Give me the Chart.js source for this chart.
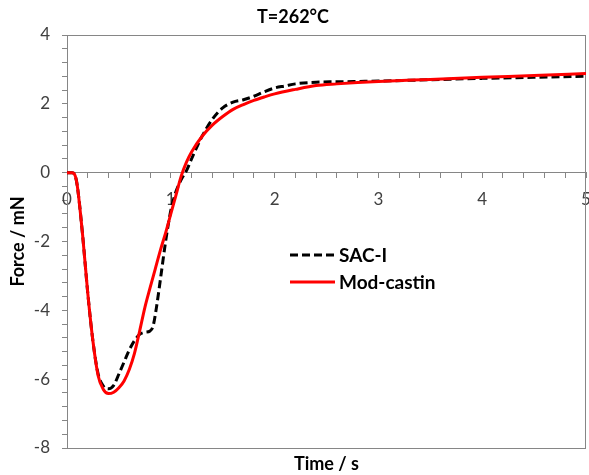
<!DOCTYPE html>
<html>
<head>
<meta charset="utf-8">
<script src="https://cdn.jsdelivr.net/npm/chart.js@4.4.1/dist/chart.umd.min.js"></script>
<style>
  html, body { margin: 0; padding: 0; background: #fff; }
  #wrap { width: 589px; height: 475px; }
</style>
</head>
<body>
<div id="wrap"><canvas id="forceChart"></canvas></div>
<script>
// values (time in s, force in mN)
const sacTime = [0, 0.05, 0.08, 0.1, 0.15, 0.2, 0.25, 0.3, 0.35, 0.4, 0.45, 0.5, 0.55, 0.6, 0.65, 0.7, 0.75, 0.8,
  0.83, 0.86, 0.9, 0.95, 1.0, 1.05, 1.1, 1.15, 1.2, 1.3, 1.4, 1.5, 1.6, 1.7, 1.8, 1.9, 2.0, 2.1, 2.2,
  2.4, 2.6, 2.8, 3.0, 3.5, 4.0, 4.5, 5.0];
const sacForce = [0, 0, -0.1, -0.4, -1.8, -3.5, -4.9, -5.85, -6.2, -6.28, -6.18, -5.85, -5.5, -5.15, -4.88, -4.7, -4.64, -4.6,
  -4.45, -3.95, -3.1, -2.0, -1.1, -0.55, -0.2, 0.05, 0.4, 1.05, 1.55, 1.88, 2.05, 2.12, 2.22, 2.35, 2.46, 2.52, 2.58,
  2.63, 2.64, 2.65, 2.66, 2.7, 2.74, 2.77, 2.8];
const modTime = [0, 0.05, 0.08, 0.1, 0.15, 0.2, 0.25, 0.3, 0.35, 0.4, 0.45, 0.5, 0.55, 0.6, 0.65, 0.7, 0.75, 0.8,
  0.85, 0.9, 0.95, 1.0, 1.05, 1.1, 1.15, 1.2, 1.3, 1.4, 1.5, 1.6, 1.7, 1.8, 1.9, 2.0, 2.2, 2.4, 2.6, 2.8,
  3.0, 3.5, 4.0, 4.5, 5.0];
const modForce = [0, 0, -0.1, -0.4, -1.8, -3.5, -4.9, -5.9, -6.3, -6.42, -6.38, -6.25, -6.05, -5.72, -5.25, -4.6, -3.92, -3.35,
  -2.8, -2.25, -1.75, -1.2, -0.65, -0.1, 0.3, 0.6, 1.05, 1.38, 1.63, 1.84, 1.98, 2.1, 2.2, 2.29, 2.42, 2.53, 2.58, 2.62,
  2.65, 2.71, 2.77, 2.82, 2.88];

const xMajor = [0, 1, 2, 3, 4, 5];
const yMajor = [-8, -6, -4, -2, 0, 2, 4];
const seriesNames = ["SAC-I", "Mod-castin"];

const axisGray = "#868686";
const fontFamily = "Lato, 'Open Sans', sans-serif";
const labelFont = { family: fontFamily, size: 17 };
const boldFont = { family: fontFamily, size: 18, weight: "bold" };

function toPoints(xs, ys) {
  return xs.map((x, i) => ({ x: x, y: ys[i] }));
}

function isMajor(v, list) {
  return list.some((m) => Math.abs(m - v) < 1e-6);
}

// frame around the plot area
const plotFrame = {
  id: "plotFrame",
  beforeDatasetsDraw(chart) {
    const { ctx, chartArea } = chart;
    ctx.save();
    ctx.strokeStyle = axisGray;
    ctx.lineWidth = 1;
    ctx.strokeRect(chartArea.left + 0.5, chartArea.top + 0.5,
      chartArea.right - chartArea.left - 1, chartArea.bottom - chartArea.top);
    ctx.restore();
  },
};

// legend drawn inside the plot
const insideLegend = {
  id: "insideLegend",
  afterDatasetsDraw(chart) {
    const { ctx } = chart;
    const order = [1, 0];
    ctx.save();
    order.forEach((idx, row) => {
      const ds = chart.data.datasets[idx];
      const y = 255 + row * 27;
      ctx.beginPath();
      ctx.strokeStyle = ds.borderColor;
      ctx.lineWidth = 3;
      ctx.setLineDash(ds.borderDash || []);
      ctx.moveTo(290, y);
      ctx.lineTo(335, y);
      ctx.stroke();
      ctx.setLineDash([]);
      ctx.fillStyle = "#000";
      ctx.font = "bold 19px " + fontFamily;
      ctx.textBaseline = "middle";
      ctx.fillText(ds.label, 339, y + 1);
    });
    ctx.restore();
  },
};

new Chart(document.getElementById("forceChart"), {
  type: "line",
  data: {
    datasets: [
      {
        label: seriesNames[1],
        data: toPoints(modTime, modForce),
        borderColor: "#ff0000",
        borderWidth: 3,
        pointRadius: 0,
        cubicInterpolationMode: "monotone",
        order: 0,
      },
      {
        label: seriesNames[0],
        data: toPoints(sacTime, sacForce),
        borderColor: "#000000",
        borderWidth: 3,
        borderDash: [8, 4],
        pointRadius: 0,
        cubicInterpolationMode: "monotone",
        order: 1,
      },
    ],
  },
  options: {
    responsive: true,
    maintainAspectRatio: false,
    animation: false,
    layout: { padding: { left: 0, right: 3, top: 0, bottom: 0 } },
    plugins: {
      legend: { display: false },
      tooltip: { enabled: false },
      title: {
        display: true,
        text: "T=262°C",
        color: "#000",
        font: { family: fontFamily, size: 18, weight: "bold" },
        padding: { top: 6, bottom: 7.4 },
      },
    },
    scales: {
      x: {
        type: "linear",
        min: 0,
        max: 5,
        position: { y: 0 },
        ticks: {
          stepSize: 0.2,
          autoSkip: false,
          maxRotation: 0,
          padding: 12,
          color: "#404040",
          font: labelFont,
          callback: (v) => (isMajor(v, xMajor) ? String(Math.round(v)) : ""),
        },
        grid: { drawOnChartArea: false, tickLength: 5, color: axisGray },
        border: { color: axisGray },
        afterFit: (s) => { s.paddingLeft = 0; s.paddingRight = 0; },
      },
      x2: {
        type: "linear",
        position: "bottom",
        min: 0,
        max: 5,
        ticks: { display: false },
        grid: { display: false },
        border: { display: false },
        title: { display: true, text: "Time / s", color: "#000", font: boldFont, padding: { top: 3, bottom: 0 } },
        afterFit: (s) => { s.height = 27; },
      },
      y: {
        min: -8,
        max: 4,
        ticks: {
          stepSize: 0.4,
          autoSkip: false,
          padding: 12,
          color: "#404040",
          font: labelFont,
          callback: (v) => (isMajor(v, yMajor) ? String(Math.round(v)) : ""),
        },
        grid: { drawOnChartArea: false, tickLength: 5, color: axisGray },
        border: { color: axisGray },
        title: { display: true, text: "Force / mN", color: "#000", font: boldFont, padding: { top: 7, bottom: 0 } },
        afterFit: (s) => { s.width = 67; },
      },
    },
  },
  plugins: [plotFrame, insideLegend],
});
</script>
</body>
</html>
